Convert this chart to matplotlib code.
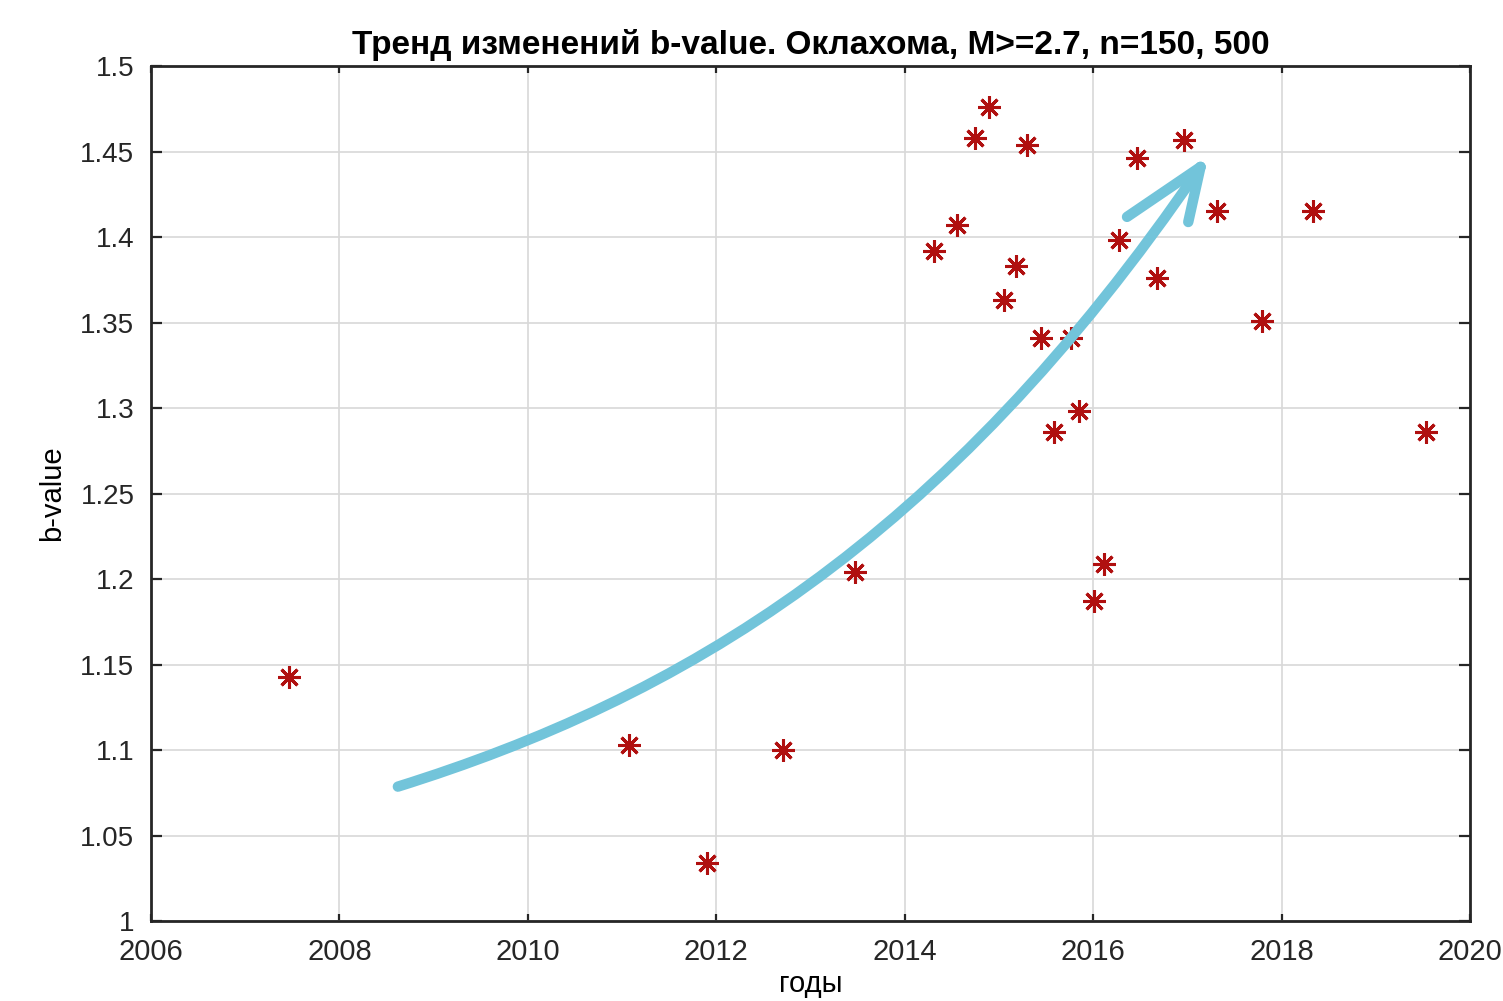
import numpy as np
import matplotlib
matplotlib.use("Agg")
import matplotlib.pyplot as plt
from matplotlib.path import Path
from matplotlib.patches import PathPatch

plt.rcParams["font.family"] = ["Liberation Sans", "DejaVu Sans"]

# b-value estimates (decimal year, b)
years = [2007.46, 2011.07, 2011.90, 2012.71, 2013.47, 2014.31, 2014.55, 2014.75,
         2014.90, 2015.05, 2015.18, 2015.30, 2015.45, 2015.59, 2015.76, 2015.85,
         2016.01, 2016.12, 2016.27, 2016.47, 2016.68, 2016.96, 2017.31, 2017.79,
         2018.33, 2019.53]
bvals = [1.143, 1.103, 1.034, 1.100, 1.204, 1.392, 1.407, 1.458,
         1.476, 1.363, 1.383, 1.454, 1.341, 1.286, 1.341, 1.298,
         1.187, 1.209, 1.398, 1.446, 1.376, 1.457, 1.415, 1.351,
         1.415, 1.286]

# hand-drawn trend arrow: cubic Bezier shaft (start, two controls, tip) + two barbs
shaft = [(2008.62, 1.0786), (2011.6, 1.13), (2014.4, 1.22), (2017.14, 1.441)]
barbs = [(2016.36, 1.4118), (2017.01, 1.4088)]

xticks = [2006, 2008, 2010, 2012, 2014, 2016, 2018, 2020]
yticks = [1.0, 1.05, 1.1, 1.15, 1.2, 1.25, 1.3, 1.35, 1.4, 1.45, 1.5]
ytick_labels = ["1", "1.05", "1.1", "1.15", "1.2", "1.25", "1.3", "1.35", "1.4", "1.45", "1.5"]

CYAN = "#72C4DA"
RED = "#CC1111"

fig = plt.figure(figsize=(15.03, 10.01), dpi=100)
ax = fig.add_axes([0.1005, 0.0799, 0.8775, 0.8541])

ax.plot(years, bvals, ls="none", marker=(8, 2, 0), ms=16, mew=2.2,
        color=RED, mec="#B01010", zorder=3)

path = Path(shaft, [Path.MOVETO, Path.CURVE4, Path.CURVE4, Path.CURVE4])
ax.add_patch(PathPatch(path, fc="none", ec=CYAN, lw=7.5, capstyle="round",
                       joinstyle="round", zorder=4))
tip = shaft[-1]
for bx, by in barbs:
    ax.plot([tip[0], bx], [tip[1], by], color=CYAN, lw=7.5,
            solid_capstyle="round", zorder=4)

ax.set_xlim(2006, 2020)
ax.set_ylim(1.0, 1.5)
ax.set_xticks(xticks)
ax.set_xticklabels([str(x) for x in xticks])
ax.set_yticks(yticks)
ax.set_yticklabels(ytick_labels)
ax.grid(True, color="#D8D8D8", lw=1.2)
ax.set_axisbelow(True)
for s in ax.spines.values():
    s.set_linewidth(2.0)
    s.set_color("#262626")
ax.tick_params(axis="both", direction="in", top=True, right=True,
               width=1.6, colors="#262626")
ax.tick_params(axis="y", length=8, pad=12, labelsize=20)
ax.tick_params(axis="x", length=5, pad=12, labelsize=21)

ax.set_title("Тренд изменений b-value. Оклахома, M>=2.7, n=150, 500",
             fontsize=24, fontweight="bold", pad=9)
ax.set_xlabel("годы", fontsize=21, labelpad=3)
ax.set_ylabel("b-value", fontsize=21, labelpad=10)

fig.savefig("out.png", dpi=100)
